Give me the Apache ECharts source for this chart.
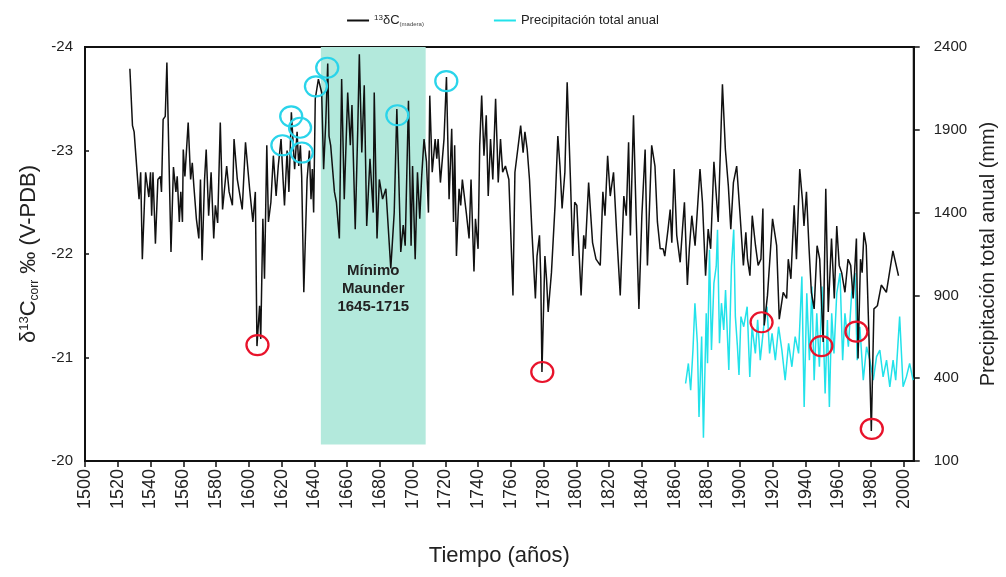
<!DOCTYPE html>
<html>
<head>
<meta charset="utf-8">
<title>δ13C y precipitación total anual</title>
<script src="https://cdn.jsdelivr.net/npm/echarts@6/dist/echarts.min.js"></script>
<style>
	html, body { margin: 0; padding: 0; background: #fff; }
	#chart { width: 1006px; height: 577px; }
</style>
</head>
<body>
<div id="chart"></div>
<script>
	// serie δ13C (madera), años y valores
	var d13cYears = [
		1527.4, 1529, 1530, 1533, 1534, 1535, 1537, 1539, 1540, 1540.7, 1541.5, 1543, 1544.5, 1546, 1546.7, 1547.7, 1549,
		1550, 1552.5, 1554, 1555.5, 1556.3, 1557.6, 1558.5, 1559.5, 1560, 1561, 1563, 1564.5, 1565.5, 1566.5, 1568, 1569.5,
		1570.5, 1571.5, 1573, 1574, 1575.5, 1577, 1578.6, 1579.6, 1581, 1582.6, 1584, 1586.5, 1588, 1590, 1591, 1593, 1596, 1598,
		1600.5, 1602.5, 1604, 1605, 1606.6, 1607.3, 1608.6, 1609.6, 1611, 1612, 1613.5, 1615, 1616.7, 1618, 1619.7,
		1621, 1621.8, 1623.4, 1624.5, 1626, 1628, 1629.5, 1630.5, 1631.5, 1632.3, 1633.6, 1635.6, 1637, 1638, 1638.8, 1639.6,
		1640.6, 1642.5, 1644.5, 1645.7, 1647, 1648.2, 1649, 1650, 1652.3, 1653.5, 1655.3, 1656.7, 1658.3,
		1660.4, 1662, 1663, 1665, 1666.5, 1667.5, 1669, 1670.5, 1672, 1674, 1676, 1676.6, 1678.3, 1679.7,
		1681.7, 1683.7, 1686.7, 1688.8, 1690.4, 1691.5, 1692.8, 1694.3, 1695.5, 1697.5, 1699.1,
		1700, 1701.6, 1703, 1704.4, 1705.6, 1707, 1708.5, 1709.7, 1710.5, 1712, 1713.8, 1714.8, 1715.6, 1717, 1719.2,
		1720.7, 1722.3, 1723.9, 1725, 1725.7, 1726.8, 1728.4, 1729.4, 1730.4, 1732.8, 1734.5, 1735.7, 1737.5, 1738.4,
		1740, 1741, 1742.2, 1743.6, 1745, 1746.2, 1747.6, 1749, 1750.7, 1751.7, 1752.3, 1753.7, 1755, 1756.7, 1758.8,
		1761.3, 1762.5, 1765, 1766, 1767.5, 1768.6, 1770, 1771.4, 1773, 1775, 1776, 1777.5, 1778.3, 1779,
		1780.8, 1781.8, 1782.8, 1784.8, 1787, 1788.7, 1790, 1791.3, 1793, 1794.4, 1796.4, 1797.8, 1799,
		1800.3, 1802.9, 1804.5, 1805.5, 1807.5, 1809.9, 1812, 1814.6, 1816.2, 1817.5, 1819.1,
		1820.7, 1822.7, 1824.7, 1826.8, 1829, 1830.5, 1831.9, 1833, 1834.9, 1836.5, 1838.2,
		1840, 1842, 1843.4, 1846, 1848, 1849.5, 1851.2, 1853, 1854, 1856, 1857.3, 1858.3, 1859.7,
		1861.3, 1863.4, 1864.8, 1866, 1867.8, 1869, 1870.5, 1872.5, 1875.5, 1877, 1878.9,
		1880.5, 1882, 1884, 1886.6, 1889.2, 1891, 1892.8, 1894.3, 1895.9, 1897.9,
		1900, 1902, 1903.5, 1904.5, 1906, 1907.4, 1909.4, 1911, 1912.7, 1913.9, 1914.7, 1916.7, 1919.8,
		1922.3, 1923.9, 1926.3, 1928.4, 1929.4, 1931, 1933, 1934.4, 1936.4, 1938, 1939,
		1940.5, 1942, 1943.5, 1945.2, 1947, 1948.6, 1950.7, 1952.3, 1953.8, 1955.8, 1957.5, 1959,
		1960.5, 1962, 1964, 1965.9, 1967.5, 1969, 1971, 1972, 1973.5, 1974.5, 1975.6, 1977, 1978.7,
		1980.1, 1981.7, 1983.8, 1986.2, 1989.3, 1993.3, 1996.7
	];
	var d13cValues = [
		-23.79, -23.24, -23.18, -22.53, -22.79, -21.95, -22.79, -22.55, -22.79, -22.37, -22.79, -22.10, -22.72, -22.75, -22.60, -23.30, -23.33,
		-23.85, -22.02, -22.84, -22.60, -22.75, -22.31, -22.60, -22.31, -23.01, -22.75, -23.27, -22.72, -22.88, -22.65, -22.34, -22.15,
		-22.72, -21.94, -22.72, -23.01, -22.37, -22.79, -22.15, -22.47, -22.30, -23.27, -22.43, -22.85, -22.60, -22.47, -23.11, -22.72, -22.43, -23.08,
		-22.63, -22.31, -22.60, -21.11, -21.50, -21.18, -22.34, -21.76, -23.05, -22.31, -22.50, -22.95, -22.56, -22.85, -23.11,
		-22.70, -22.47, -23.00, -22.60, -23.37, -22.82, -23.18, -22.85, -23.05, -22.75, -21.63, -22.72, -23.00, -22.53, -22.82, -22.40,
		-23.50, -23.69, -23.56, -22.82, -23.27, -23.84, -23.14, -23.05, -22.60, -22.50, -22.15, -23.69, -22.53,
		-23.56, -23.05, -23.44, -22.24, -23.18, -23.93, -22.98, -23.63, -22.27, -22.92, -22.40, -23.56, -22.15, -22.72,
		-22.53, -22.63, -21.86, -22.40, -23.40, -22.79, -22.02, -22.28, -22.08, -23.48, -22.08,
		-22.85, -21.95, -22.79, -22.34, -22.76, -23.11, -22.89, -22.40, -23.53, -22.79, -23.11, -22.92, -23.11, -22.69, -23.11,
		-23.71, -22.53, -23.21, -22.31, -23.05, -21.98, -22.63, -22.47, -22.72, -22.40, -22.15, -22.72, -21.83, -22.34,
		-22.05, -23.05, -23.53, -22.95, -23.34, -22.56, -23.11, -22.72, -23.50, -23.01, -22.69, -23.11, -22.79, -22.85, -22.72,
		-21.60, -22.79, -23.11, -23.24, -22.98, -23.18, -23.01, -22.72, -22.18, -21.57, -21.98, -22.18, -21.76, -20.86,
		-21.98, -21.76, -21.44, -21.82, -22.47, -23.14, -22.85, -22.44, -22.79, -23.66, -22.72, -21.98, -22.50,
		-22.47, -21.60, -22.18, -22.05, -22.69, -22.11, -21.95, -21.89, -22.60, -22.37, -22.95,
		-22.56, -22.79, -22.18, -21.60, -22.56, -22.37, -23.08, -22.18, -23.34, -22.37, -21.47,
		-22.37, -23.01, -21.89, -23.05, -22.85, -22.31, -22.05, -22.05, -21.98, -22.24, -22.43, -22.11, -22.82,
		-22.18, -21.92, -22.24, -22.50, -21.70, -22.05, -22.37, -22.08, -22.82, -22.50, -21.79,
		-22.24, -22.05, -22.89, -22.31, -23.64, -23.01, -22.66, -22.24, -22.69, -22.85,
		-22.37, -21.89, -22.21, -21.95, -21.79, -22.37, -22.08, -21.89, -21.95, -22.44, -21.31, -21.60, -22.34,
		-22.08, -21.37, -21.63, -21.57, -21.95, -21.76, -22.47, -21.95, -22.82, -22.53, -22.27,
		-22.60, -22.08, -21.63, -21.47, -22.08, -21.95, -21.15, -22.63, -21.44, -22.15, -21.57, -22.27,
		-21.89, -21.82, -21.63, -21.95, -21.89, -21.57, -22.15, -20.99, -21.95, -21.82, -22.21, -22.08, -21.18,
		-20.29, -21.47, -21.50, -21.70, -21.63, -22.03, -21.79
	];

	// precipitación total anual (mm)
	var precipYears = [
		1866.7, 1868.4, 1869.8, 1871.2, 1872.4, 1873.9, 1874.9, 1876.5, 1877.6, 1879.3,
		1880.1, 1881.3, 1882.5, 1884, 1885.4, 1886.2, 1887.4, 1888.6, 1890, 1891.1, 1893.1, 1894.7, 1896.1, 1897.1, 1898.3, 1899.3,
		1900.5, 1902.2, 1904.3, 1905.9, 1907.3, 1909.3, 1910.7, 1912.3, 1914.4, 1916.4, 1918, 1919.5,
		1921.5, 1923.5, 1925.5, 1927.5, 1929.6, 1931.6, 1933.6, 1935.7, 1937.7, 1939.1,
		1940.7, 1942.3, 1943.8, 1945.2, 1946.8, 1948.4, 1950, 1951.9, 1953.3, 1954.5, 1955.9, 1957.3, 1959,
		1961, 1962.6, 1964, 1966.1, 1968.1, 1970.1, 1971.5, 1973.1, 1975.2, 1977.2, 1979.2,
		1981.3, 1983.3, 1985.3, 1987.3, 1989.4, 1991.4, 1993.4, 1995, 1997.4, 1999.5,
		2001.5, 2003.5, 2005.6
	];
	var precipValues = [
		368, 489, 327, 570, 853, 611, 166, 651, 40, 792,
		491, 1176, 570, 974, 1075, 1297, 611, 853, 691, 933, 449, 1075, 1297, 772, 600, 420,
		772, 711, 832, 408, 711, 550, 752, 509, 711, 832, 550, 671,
		509, 711, 570, 388, 611, 469, 651, 550, 1014, 226,
		913, 509, 954, 388, 792, 469, 954, 307, 752, 226, 792, 550, 913,
		1035, 509, 792, 590, 913, 1035, 509, 711, 388, 590, 509,
		388, 530, 570, 408, 509, 348, 509, 388, 772, 348,
		408, 489, 388
	];

	// máximos (cian) y mínimos (rojo) señalados
	var cyanCircleYears = [1620.5, 1625.9, 1631.3, 1632.4, 1641, 1647.9, 1690.7, 1720.6];
	var cyanCircleValues = [-23.05, -23.33, -23.22, -22.98, -23.62, -23.80, -23.34, -23.67];
	var redCircleYears = [1605.3, 1779.2, 1913.1, 1949.6, 1971, 1980.4];
	var redCircleValues = [-21.12, -20.86, -21.34, -21.11, -21.25, -20.31];

	// Mínimo de Maunder (banda sombreada)
	var maunderYears = [1644, 1708];
	var maunderText = 'Mínimo\nMaunder\n1645-1715';

	// ejes
	var yearTicks = [1500, 2006, 20];
	var leftTicks = [-24, -23, -22, -21, -20];
	var rightTicks = [-100, 400, 900, 1400, 1900, 2400];

	function pairs(xs, ys) {
		return xs.map(function(x, i) { return [x, ys[i]]; });
	}

	function circles(xs, ys, color) {
		return xs.map(function(x, i) {
			return {
				coord: [x, ys[i]],
				itemStyle: { color: 'rgba(0,0,0,0)', borderColor: color, borderWidth: 2.2 }
			};
		});
	}

	var chart = echarts.init(document.getElementById('chart'));

	var option = {
		animation: false,
		textStyle: { fontFamily: 'Liberation Sans, Arial, sans-serif' },
		legend: {
			top: 9,
			left: 'center',
			itemGap: 70,
			itemWidth: 22,
			itemHeight: 2,
			icon: 'rect',
			data: ['d13c', 'Precipitación total anual'],
			formatter: function(name) {
				if (name === 'd13c') {
					return '{sup|13}δC{sub|(madera)}';
				}
				return name;
			},
			textStyle: {
				fontSize: 13,
				color: '#222',
				rich: {
					sup: { fontSize: 8, verticalAlign: 'top', color: '#222' },
					sub: { fontSize: 6, verticalAlign: 'bottom', color: '#444' }
				}
			}
		},
		grid: {
			left: 85,
			right: 89,
			top: 47,
			bottom: 116,
			show: true,
			borderColor: '#111',
			borderWidth: 2
		},
		xAxis: {
			type: 'value',
			min: yearTicks[0],
			max: yearTicks[1],
			interval: yearTicks[2],
			name: 'Tiempo (años)',
			nameLocation: 'middle',
			nameGap: 84,
			nameTextStyle: { fontSize: 22, color: '#222' },
			axisLine: { onZero: false, lineStyle: { color: '#111', width: 2 } },
			axisTick: { length: 6, lineStyle: { color: '#111', width: 1.5 } },
			axisLabel: {
				rotate: 90,
				fontSize: 18,
				color: '#222',
				margin: 8,
				showMaxLabel: false,
				formatter: function(v) { return String(v); }
			},
			splitLine: { show: false }
		},
		yAxis: [
			{
				type: 'value',
				inverse: true,
				min: leftTicks[0],
				max: leftTicks[leftTicks.length - 1],
				interval: 1,
				position: 'left',
				name: '{n|δ}{sup|13}{n|C}{sub|corr}{n| ‰ (V-PDB)}',
				nameLocation: 'middle',
				nameRotate: 90,
				nameGap: 44,
				nameTextStyle: {
					color: '#222',
					rich: {
						n: { fontSize: 22, color: '#222' },
						sup: { fontSize: 13, verticalAlign: 'top', color: '#222' },
						sub: { fontSize: 12, verticalAlign: 'bottom', color: '#222' }
					}
				},
				axisLine: { show: true, onZero: false, lineStyle: { color: '#111', width: 2 } },
				axisTick: { show: true, inside: true, length: 4, lineStyle: { color: '#111', width: 1.5 } },
				axisLabel: { fontSize: 15, color: '#222', margin: 12 },
				splitLine: { show: false }
			},
			{
				type: 'value',
				min: rightTicks[0],
				max: rightTicks[rightTicks.length - 1],
				interval: 500,
				position: 'right',
				name: 'Precipitación total anual (mm)',
				nameLocation: 'middle',
				nameRotate: 90,
				nameGap: 62,
				nameTextStyle: { fontSize: 20, color: '#222' },
				axisLine: { show: true, onZero: false, lineStyle: { color: '#111', width: 2 } },
				axisTick: { show: true, length: 6, lineStyle: { color: '#111', width: 1.5 } },
				axisLabel: {
					fontSize: 15,
					color: '#222',
					margin: 20,
					formatter: function(v) { return Math.abs(v); }
				},
				splitLine: { show: false }
			}
		],
		series: [
			{
				name: 'maunder',
				type: 'line',
				yAxisIndex: 0,
				data: [],
				z: 1,
				markArea: {
					silent: true,
					itemStyle: { color: '#b3e9dc' },
					label: {
						show: true,
						position: 'inside',
						offset: [0, 43],
						formatter: maunderText,
						fontSize: 15,
						fontWeight: 'bold',
						lineHeight: 18,
						align: 'center',
						color: '#222'
					},
					data: [[
						{ xAxis: maunderYears[0], yAxis: leftTicks[0] },
						{ xAxis: maunderYears[1], yAxis: -20.16 }
					]]
				}
			},
			{
				name: 'Precipitación total anual',
				type: 'line',
				yAxisIndex: 1,
				data: pairs(precipYears, precipValues),
				symbol: 'none',
				z: 2,
				itemStyle: { color: '#22e2ea' },
				lineStyle: { color: '#22e2ea', width: 1.5 }
			},
			{
				name: 'd13c',
				type: 'line',
				yAxisIndex: 0,
				data: pairs(d13cYears, d13cValues),
				symbol: 'none',
				z: 3,
				itemStyle: { color: '#111' },
				lineStyle: { color: '#111', width: 1.5 },
				markPoint: {
					silent: true,
					symbol: 'circle',
					symbolSize: [22, 20],
					label: { show: false },
					data: circles(cyanCircleYears, cyanCircleValues, '#2ad4ea')
						.concat(circles(redCircleYears, redCircleValues, '#e8132b'))
				}
			}
		]
	};

	chart.setOption(option);
</script>
</body>
</html>
